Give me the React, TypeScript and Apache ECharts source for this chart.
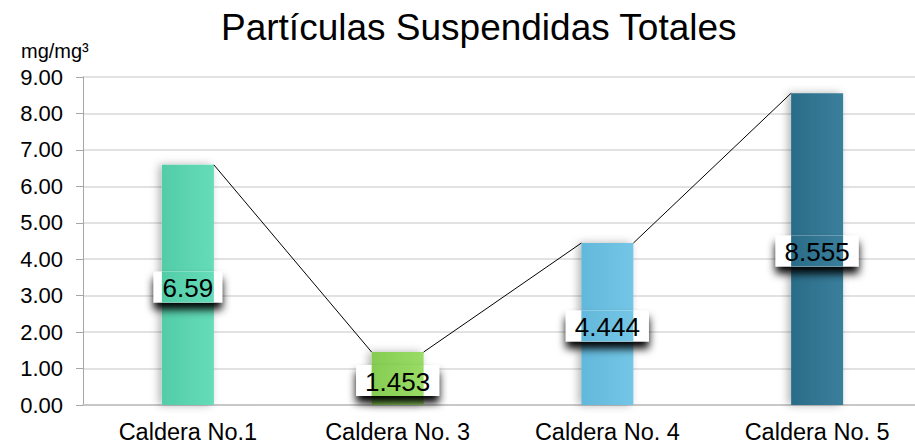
import React, { useEffect, useRef } from "react";
import * as echarts from "echarts";

const categories = ["Caldera No.1", "Caldera No. 3", "Caldera No. 4", "Caldera No. 5"];
const values = [6.59, 1.453, 4.444, 8.555];
const labels = ["6.59", "1.453", "4.444", "8.555"];
const barColors = [
  ["#52cca7", "#66dcb9"],
  ["#86cc52", "#99dc66"],
  ["#62b8db", "#74c6e6"],
  ["#2a6c88", "#3a7f9c"],
];
const yTicks = { min: 0, max: 9, interval: 1 };

const FONT = "'Liberation Sans', Arial, sans-serif";
const BAR_W = 52;
const LABEL_FONT = 26;

function gradientFor(i: number) {
  return new echarts.graphic.LinearGradient(0, 0, 1, 0, [
    { offset: 0, color: barColors[i][0] },
    { offset: 1, color: barColors[i][1] },
  ]);
}

function measure(text: string): number {
  const c = document.createElement("canvas").getContext("2d");
  if (!c) return text.length * LABEL_FONT * 0.55;
  c.font = `${LABEL_FONT}px 'Liberation Sans', Arial, sans-serif`;
  return c.measureText(text).width;
}

export default function App() {
  const ref = useRef<HTMLDivElement>(null);
  useEffect(() => {
    if (!ref.current) return;
    const chart = echarts.init(ref.current, null, { renderer: "svg" });
    const connectorData = values.slice(0, -1).map((v, i) => [i, v, i + 1, values[i + 1]]);
    const labelData = values.map((v, i) => [i, v]);
    chart.setOption({
      animation: false,
      backgroundColor: "#ffffff",
      title: [
        {
          text: "Partículas Suspendidas Totales",
          left: 216,
          top: 4,
          textStyle: { fontFamily: FONT, fontSize: 37, fontWeight: "normal", color: "#000" },
        },
        {
          text: "mg/mg³",
          left: 16,
          top: 36,
          textStyle: { fontFamily: FONT, fontSize: 20, fontWeight: "normal", color: "#000" },
        },
      ],
      grid: { left: 83, right: 0, top: 77, bottom: 41, containLabel: false },
      xAxis: {
        type: "category",
        data: categories,
        axisLine: { lineStyle: { color: "#bfbfbf", width: 1.5 } },
        axisTick: { show: false },
        axisLabel: { fontFamily: FONT, fontSize: 23.5, color: "#000", margin: 15 },
      },
      yAxis: {
        type: "value",
        min: yTicks.min,
        max: yTicks.max,
        interval: yTicks.interval,
        axisLine: { show: true, lineStyle: { color: "#a6a6a6", width: 1 } },
        axisTick: { show: true, length: 7, lineStyle: { color: "#a6a6a6" } },
        splitLine: { lineStyle: { color: "#d9d9d9", width: 1.5 } },
        axisLabel: {
          fontFamily: FONT,
          fontSize: 22,
          color: "#000",
          margin: 20,
          formatter: (v: number) => v.toFixed(2),
        },
      },
      series: [
        {
          type: "bar",
          barWidth: BAR_W,
          data: values.map((v, i) => ({
            value: v,
            itemStyle: {
              color: gradientFor(i),
              shadowBlur: 8,
              shadowColor: "rgba(0,0,0,0.3)",
              shadowOffsetX: -3,
            },
          })),
          z: 2,
        },
        {
          type: "custom",
          data: connectorData,
          renderItem: (params: any, api: any) => {
            const p1 = api.coord([api.value(0), api.value(1)]);
            const p2 = api.coord([api.value(2), api.value(3)]);
            return {
              type: "line",
              shape: { x1: p1[0] + BAR_W / 2, y1: p1[1], x2: p2[0] - BAR_W / 2, y2: p2[1] },
              style: { stroke: "#000", lineWidth: 1 },
            };
          },
          z: 3,
        },
        {
          type: "custom",
          data: labelData,
          renderItem: (params: any, api: any) => {
            const i = api.value(0);
            const v = api.value(1);
            const c = api.coord([i, v / 2]);
            const cx = c[0];
            const cy = c[1] + 2;
            const text = labels[params.dataIndex];
            const boxW = measure(text) + 18;
            const boxH = 31;
            const bx = cx - boxW / 2;
            const by = cy - boxH / 2;
            return {
              type: "group",
              children: [
                {
                  type: "rect",
                  shape: { x: bx, y: by, width: boxW, height: boxH },
                  style: {
                    fill: "#ffffff",
                    shadowColor: "rgba(0,0,0,1)",
                    shadowBlur: 8,
                    shadowOffsetY: 7,
                  },
                },
                {
                  type: "rect",
                  shape: { x: cx - BAR_W / 2, y: by, width: BAR_W, height: boxH },
                  style: { fill: gradientFor(params.dataIndex) },
                },
                {
                  type: "text",
                  x: cx,
                  y: cy + 1,
                  style: {
                    text,
                    fill: "#000",
                    font: `${LABEL_FONT}px ${FONT}`,
                    align: "center",
                    verticalAlign: "middle",
                  },
                },
              ],
            };
          },
          z: 4,
        },
      ],
    });
    return () => chart.dispose();
  }, []);
  return (
    <div
      ref={ref}
      style={{ position: "fixed", left: 0, top: 0, width: 922, height: 446 }}
    />
  );
}
